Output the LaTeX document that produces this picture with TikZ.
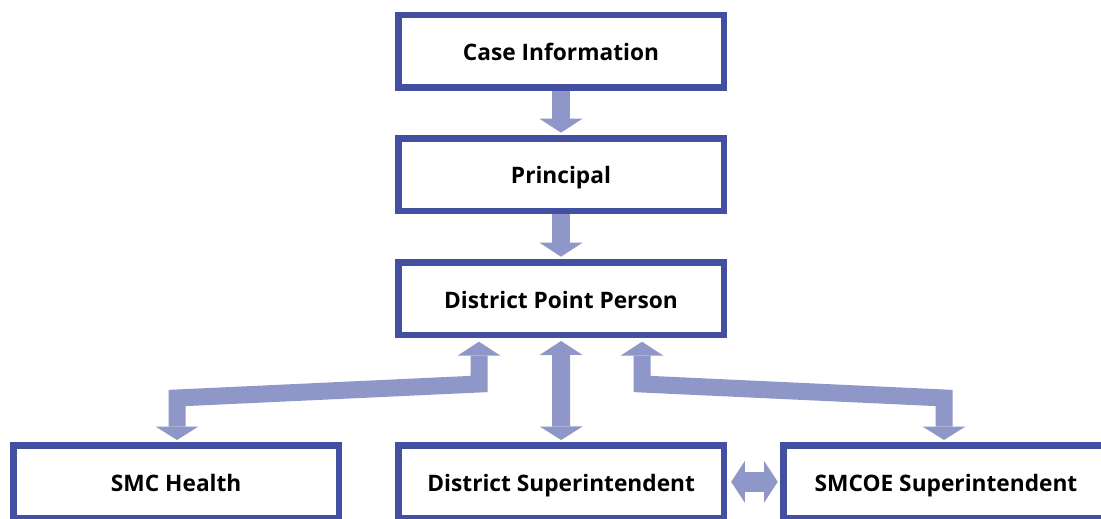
\documentclass[tikz,border=0pt]{standalone}
\usepackage{fontspec}
\setmainfont{Open Sans}
\usetikzlibrary{arrows.meta}

\definecolor{boxblue}{RGB}{67,79,160}
\definecolor{flowblue}{RGB}{143,151,201}

\tikzset{
  stage/.style={draw=boxblue, line width=6.5pt, fill=white, rectangle,
    minimum width=325.5pt, minimum height=72.5pt, inner sep=0pt,
    text height=18.8pt, text depth=0pt,
    font=\fontsize{22.7}{27}\selectfont\bfseries, text=black},
  flow/.style={draw=flowblue, line width=18pt, line join=miter,
    -{Triangle[width=43pt, length=14pt, line width=0pt]}},
  link/.style={draw=flowblue, line width=17pt, line join=miter,
    {Triangle[width=43pt, length=14pt, line width=0pt]}-{Triangle[width=43pt, length=13.5pt, line width=0pt]}},
  sidelink/.style={draw=flowblue, line width=20pt,
    {Triangle[width=42pt, length=13.7pt, line width=0pt]}-{Triangle[width=42pt, length=13.7pt, line width=0pt]}}
}

\begin{document}
\begin{tikzpicture}[x=1pt, y=-1pt]
  \useasboundingbox (0,0) rectangle (1101,519);
  \clip (0,0) rectangle (1101,519);

  % chain of boxes
  \node[stage] (info)  at (561,51.2)   {Case Information};
  \node[stage] (princ) at (561,174.5)  {Principal};
  \node[stage] (dpp)   at (561,298.8)  {District Point Person};
  \node[stage] (smc)   at (176.2,481.8) {SMC Health};
  \node[stage] (dsup)  at (561.2,481.8) {District Superintendent};
  \node[stage] (smcoe) at (946,481.8)  {SMCOE Superintendent};

  % bend points of the side links
  \coordinate (lup)   at (479,384);
  \coordinate (ldown) at (177,398);
  \coordinate (rup)   at (642,384);
  \coordinate (rdown) at (944,398);

  % downward flow
  \draw[flow, shorten >=2.3pt] (info) -- (princ);
  \draw[flow, shorten >=2.6pt] (princ) -- (dpp);

  % links from the point person
  \draw[link, shorten <=3.4pt, shorten >=2.3pt]
    (dpp.south -| lup) -- (lup) -- (ldown) -- (smc.north -| ldown);
  \draw[link, line width=18pt, shorten <=2.7pt, shorten >=2.3pt]
    (dpp.south) -- (dsup.north);
  \draw[link, shorten <=3.4pt, shorten >=2.3pt]
    (dpp.south -| rup) -- (rup) -- (rdown) -- (smcoe.north -| rdown);

  % between the two superintendents
  \draw[sidelink, shorten <=4pt, shorten >=2.3pt] (dsup.east) -- (smcoe.west);
\end{tikzpicture}
\end{document}
